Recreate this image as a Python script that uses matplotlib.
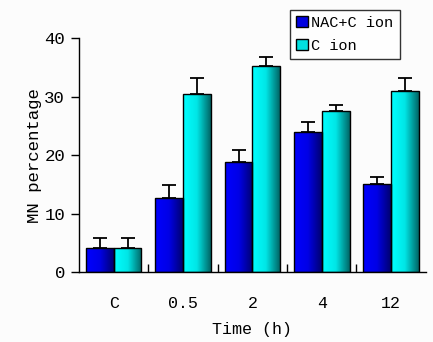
import numpy as np
import matplotlib
matplotlib.use("Agg")
import matplotlib.pyplot as plt
from matplotlib.colors import LinearSegmentedColormap
from matplotlib.patches import Patch

categories = ["C", "0.5", "2", "4", "12"]
nac_vals = [4.1, 12.6, 18.8, 23.9, 15.0]
nac_err = [1.7, 2.3, 2.1, 1.7, 1.2]
cion_vals = [4.1, 30.4, 35.2, 27.5, 30.9]
cion_err = [1.7, 2.8, 1.5, 1.0, 2.3]

plt.rcParams['font.family'] = ['Liberation Mono', 'DejaVu Sans Mono']

fig = plt.figure(figsize=(4.33, 3.42), dpi=100)
fig.patch.set_facecolor("#fcfcfc")
ax = fig.add_axes([0.1824, 0.2047, 0.801, 0.684])
ax.set_facecolor("#fcfcfc")

blue_cmap = LinearSegmentedColormap.from_list("b", ["#0000ff", "#0000e6", "#000070"])
cyan_cmap = LinearSegmentedColormap.from_list("c", ["#00ffff", "#00e6e6", "#006666"])
grad = np.linspace(0, 1, 64).reshape(1, -1)

x = np.arange(len(categories))
w = 0.4

def draw_bars(xs, vals, errs, cmap):
    for xi, v, e in zip(xs, vals, errs):
        ax.errorbar(xi, v, yerr=[[0], [e]], color="black", lw=1.3,
                    capsize=5, capthick=1.3, zorder=1)
        ax.imshow(grad, cmap=cmap, aspect="auto", zorder=2,
                  extent=[xi - w / 2, xi + w / 2, 0, v])
        ax.bar(xi, v, w, fill=False, edgecolor="black", lw=1.0, zorder=3)

draw_bars(x - w / 2, nac_vals, nac_err, blue_cmap)
draw_bars(x + w / 2, cion_vals, cion_err, cyan_cmap)

ax.set_xlim(-0.5, len(categories) - 0.5)
ax.set_ylim(0, 40)
ax.set_yticks([0, 10, 20, 30, 40])
ax.set_xticks(x)
ax.set_xticklabels(categories)
ax.set_xticks(x[:-1] + 0.5, minor=True)
ax.tick_params(axis="x", which="major", length=0, pad=17, labelsize=12)
ax.tick_params(axis="x", which="minor", direction="in", length=6, width=1)
ax.tick_params(axis="y", direction="out", length=6, width=1, pad=4, labelsize=12.5)
for s in ["top", "right"]:
    ax.spines[s].set_visible(False)
ax.spines["left"].set_linewidth(1)
ax.spines["bottom"].set_linewidth(1)

ax.set_xlabel("Time (h)", fontsize=12)
ax.xaxis.set_label_coords((252 - 79) / 347, -(330 - 272) / 234)
ax.xaxis.label.set_va("center")
ax.set_ylabel("MN percentage", fontsize=12.5)
ax.yaxis.set_label_coords(-(79 - 34) / 347, (272 - 156) / 234)
ax.yaxis.label.set_va("center")

handles = [Patch(facecolor="#0000e0", edgecolor="black"),
           Patch(facecolor="#00e0e0", edgecolor="black")]
leg = fig.legend(handles, ["NAC+C ion", "C ion"], loc="upper left",
                 bbox_to_anchor=(290 / 433, 1 - 10 / 342), fontsize=11,
                 frameon=True, fancybox=False, edgecolor="black",
                 handlelength=0.75, handleheight=0.75, handletextpad=0.25,
                 borderpad=0.4, labelspacing=0.55, borderaxespad=0)
leg.get_frame().set_linewidth(1)

fig.savefig("out.png", dpi=100, facecolor=fig.get_facecolor())
